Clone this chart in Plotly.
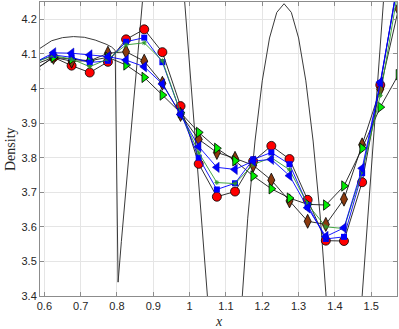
import plotly.graph_objects as go

# ---- data ----
X = [0.575, 0.625, 0.675, 0.725, 0.775, 0.825, 0.875, 0.925, 0.975, 1.025, 1.075,
     1.125, 1.175, 1.225, 1.275, 1.325, 1.375, 1.425, 1.475, 1.525, 1.575]

red_circ = [4.055, 4.090, 4.066, 4.046, 4.077, 4.142, 4.171, 4.105, 3.949, 3.782, 3.687,
            3.702, 3.790, 3.834, 3.796, 3.678, 3.560, 3.559, 3.729, 4.010, 4.320]
blue_sq = [4.076, 4.097, 4.090, 4.075, 4.080, 4.135, 4.147, 4.076, 3.930, 3.800, 3.708,
           3.726, 3.795, 3.815, 3.781, 3.663, 3.565, 3.571, 3.755, 4.015, 4.320]
green_star = [4.076, 4.095, 4.085, 4.063, 4.085, 4.126, 4.132, 4.080, 3.930, 3.814, 3.728,
              3.725, 3.780, 3.800, 3.765, 3.665, 3.600, 3.595, 3.760, 3.980, 4.290]
blue_tri = [4.076, 4.103, 4.102, 4.097, 4.092, 4.082, 4.063, 4.013, 3.925, 3.832, 3.772,
            3.766, 3.790, 3.795, 3.748, 3.655, 3.572, 3.597, 3.769, 4.018, 4.310]
brown_dia = [4.055, 4.090, 4.079, 4.080, 4.102, 4.106, 4.079, 4.015, 3.925, 3.853, 3.815,
             3.798, 3.778, 3.735, 3.675, 3.616, 3.607, 3.680, 3.837, 3.998, 4.230]
green_tri = [4.070, 4.090, 4.085, 4.080, 4.090, 4.068, 4.032, 3.981, 3.930, 3.873, 3.827,
             3.791, 3.747, 3.710, 3.683, 3.665, 3.663, 3.718, 3.827, 3.946, 4.040]

# thin oscillating reference curve
curve_x = [0.588, 0.62, 0.65, 0.68, 0.71, 0.74, 0.77, 0.785, 0.795, 0.803, 0.812, 0.87,
           0.932, 0.986, 1.049, 1.075, 1.10, 1.125, 1.145, 1.16, 1.18, 1.20, 1.22, 1.24,
           1.26, 1.28, 1.30, 1.32, 1.34, 1.36, 1.376, 1.40, 1.425, 1.45, 1.475, 1.535,
           1.575]
curve_y = [4.116, 4.138, 4.147, 4.150, 4.148, 4.140, 4.128, 4.120, 4.110, 3.440, 3.557,
           4.250, 4.950, 4.256, 3.400, 3.000, 2.850, 3.000, 3.400, 3.625, 3.848, 4.022,
           4.146, 4.220, 4.245, 4.220, 4.146, 4.022, 3.848, 3.625, 3.400, 3.050, 2.900,
           3.050, 3.400, 4.256, 4.850]

X_TICKS = [0.6, 0.7, 0.8, 0.9, 1.0, 1.1, 1.2, 1.3, 1.4, 1.5]
X_LABELS = ["0.6", "0.7", "0.8", "0.9", "1", "1.1", "1.2", "1.3", "1.4", "1.5"]
Y_TICKS = [3.4, 3.5, 3.6, 3.7, 3.8, 3.9, 4.0, 4.1, 4.2]
Y_LABELS = ["3.4", "3.5", "3.6", "3.7", "3.8", "3.9", "4", "4.1", "4.2"]

INK = "#262626"
AXIS = "#8c8c8c"
GRID = "#e5e5e5"
BLUE = "#0000ff"
RED = "#ff0000"
BROWN = "#8b3a0f"
LIME = "#00ee00"
GREEN = "#2e9a2e"

fig = go.Figure()
fig.add_trace(go.Scatter(x=curve_x, y=curve_y, mode="lines",
                         line=dict(color="#3a3a3a", width=1)))


def series(y, symbol, size, fill, edge, line_color, edge_w=0.8):
    return go.Scatter(x=X, y=y, mode="lines+markers",
                      line=dict(color=line_color, width=0.9),
                      marker=dict(symbol=symbol, size=size, color=fill,
                                  line=dict(color=edge, width=edge_w)))


fig.add_trace(series(red_circ, "circle", 9, RED, "#000000", "#1a1a1a"))
fig.add_trace(series(brown_dia, "diamond-tall", 10, BROWN, "#000000", "#1a1a1a"))
fig.add_trace(series(green_tri, "triangle-right", 9, LIME, "#000000", "#1a1a1a"))
fig.add_trace(series(blue_sq, "square", 6, BLUE, BLUE, BLUE, 0))
fig.add_trace(series(green_star, "asterisk-open", 4, GREEN, GREEN, GREEN, 1))
fig.add_trace(series(blue_tri, "triangle-left", 9, BLUE, "#0000aa", BLUE, 0.5))

fig.update_layout(
    width=399, height=329, showlegend=False,
    paper_bgcolor="white", plot_bgcolor="white",
    margin=dict(l=40, r=2, t=2, b=33),
    font=dict(family="Liberation Sans, Arial, sans-serif", size=11, color=INK),
)
common = dict(showgrid=True, gridcolor=GRID, gridwidth=1, zeroline=False,
              showline=True, linecolor=AXIS, linewidth=1, mirror="ticks",
              ticks="inside", ticklen=4, tickcolor=AXIS, automargin=False,
              tickfont=dict(size=11, color=INK))
fig.update_xaxes(range=[0.588, 1.571], tickvals=X_TICKS, ticktext=X_LABELS, **common)
fig.update_yaxes(range=[3.4, 4.25], tickvals=Y_TICKS, ticktext=Y_LABELS, **common)

fig.add_annotation(text="Density", xref="paper", yref="paper", x=-0.084, y=0.5,
                   textangle=-90, showarrow=False, xanchor="center", yanchor="middle",
                   font=dict(family="Liberation Serif, serif", size=14, color=INK))
fig.add_annotation(text="<i>x</i>", xref="paper", yref="paper", x=0.5, y=-0.086,
                   showarrow=False, xanchor="center", yanchor="middle",
                   font=dict(family="Liberation Serif, serif", size=14, color=INK))

# page body has an 8px default margin; drop it so the figure sits at the window origin
fig.write_html("out.html", config={"displayModeBar": False},
               post_script="document.body.style.margin='0';")
